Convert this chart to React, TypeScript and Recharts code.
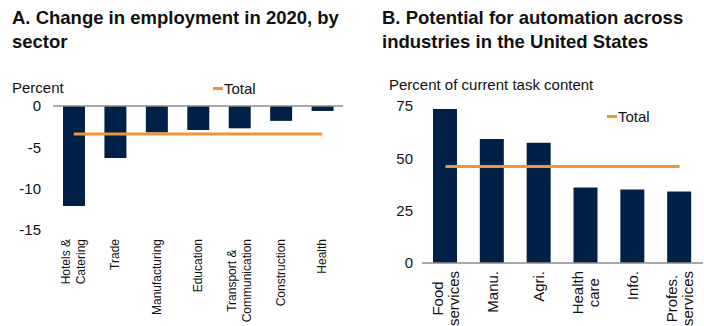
import React from 'react';
import { BarChart, Bar, Line, XAxis, YAxis, ReferenceLine } from 'recharts';

// Panel A: change in employment in 2020, by sector (percent)
const sectorsA = ['Hotels &\nCatering', 'Trade', 'Manufacturing', 'Education', 'Transport &\nCommunication', 'Construction', 'Health'];
const changeA = [-12.1, -6.3, -3.2, -2.9, -2.7, -1.8, -0.6];
const totalA = -3.4;
const ticksA = [0, -5, -10, -15];

// Panel B: potential for automation across US industries (percent of task content)
const industriesB = ['Food\nservices', 'Manu.', 'Agri.', 'Health\ncare', 'Info.', 'Profes.\nservices'];
const automationB = [73.6, 59.2, 57.4, 36.1, 35.1, 34.2];
const totalB = 46.1;
const ticksB = [0, 25, 50, 75];

const NAVY = '#002147';
const ORANGE = '#F39431';
const AXIS = '#8c8c8c';
const FONT = '"Liberation Sans", Arial, sans-serif';

const dataA = sectorsA.map((name, i) => ({ name, value: changeA[i], total: totalA }));
const dataB = industriesB.map((name, i) => ({ name, value: automationB[i], total: totalB }));

let ctx: CanvasRenderingContext2D | null = null;
function measure(text: string, size: number) {
  if (!ctx) ctx = document.createElement('canvas').getContext('2d');
  if (!ctx) return text.length * size * 0.55;
  ctx.font = `${size}px ${FONT}`;
  return ctx.measureText(text).width;
}

// rotated, multi-line category label: block ends at the top, lines centred on each other
function makeTick(fontSize: number, lineHeight: number) {
  return function RotatedTick(props: any) {
    const { x, y, payload } = props;
    const lines = String(payload.value).split('\n');
    const maxW = Math.max(...lines.map((l) => measure(l, fontSize)));
    const n = lines.length;
    return (
      <g transform={`translate(${x},${y}) rotate(-90)`}>
        {lines.map((l, i) => (
          <text
            key={i}
            x={-maxW / 2}
            y={(i - (n - 1) / 2) * lineHeight + fontSize * 0.35}
            textAnchor="middle"
            fontSize={fontSize}
            fontFamily={FONT}
            fill="#111"
          >
            {l}
          </text>
        ))}
      </g>
    );
  };
}

const TickA = makeTick(12, 15);
const TickB = makeTick(15, 16);

function LegendItem({ left, top }: { left: number; top: number }) {
  return (
    <div style={{ position: 'absolute', left, top, display: 'flex', alignItems: 'center', fontSize: 15, fontFamily: FONT, color: '#111' }}>
      <span style={{ display: 'inline-block', width: 10, height: 3, background: ORANGE, marginRight: 1 }} />
      <span>Total</span>
    </div>
  );
}

const titleStyle: React.CSSProperties = {
  position: 'absolute',
  fontFamily: FONT,
  fontWeight: 'bold',
  fontSize: 18.5,
  lineHeight: '24px',
  whiteSpace: 'nowrap',
  color: '#111',
};

export default function App() {
  return (
    <div style={{ position: 'absolute', left: 0, top: 0, width: 704, height: 326, background: '#fff', overflow: 'hidden' }}>
      <div style={{ ...titleStyle, left: 12, top: 6 }}>
        A. Change in employment in 2020, by
        <br />
        sector
      </div>
      <div style={{ ...titleStyle, left: 382, top: 6 }}>
        B. Potential for automation across
        <br />
        industries in the United States
      </div>

      <div style={{ position: 'absolute', left: 12, top: 79, fontFamily: FONT, fontSize: 15, color: '#111' }}>Percent</div>
      <div style={{ position: 'absolute', left: 389, top: 76, fontFamily: FONT, fontSize: 15, color: '#111' }}>
        Percent of current task content
      </div>

      <div style={{ position: 'absolute', left: 0, top: 0 }}>
        <BarChart width={352} height={326} data={dataA} margin={{ top: 106, right: 9, bottom: 0, left: 13 }}>
          <XAxis
            dataKey="name"
            axisLine={false}
            tickLine={false}
            tickSize={0}
            tickMargin={9}
            height={96}
            interval={0}
            tick={<TickA />}
          />
          <YAxis
            domain={[-15, 0]}
            ticks={ticksA}
            width={40}
            axisLine={false}
            tickLine={false}
            tickSize={0}
            tickMargin={12}
            tick={{ fill: '#111', fontSize: 15, fontFamily: FONT }}
          />
          <Bar dataKey="value" fill={NAVY} barSize={22} isAnimationActive={false} />
          <ReferenceLine y={0} stroke={AXIS} strokeWidth={1.5} />
          <Line dataKey="total" stroke={ORANGE} strokeWidth={3} dot={false} type="linear" isAnimationActive={false} />
        </BarChart>
      </div>

      <div style={{ position: 'absolute', left: 380, top: 0 }}>
        <BarChart width={324} height={326} data={dataB} margin={{ top: 106, right: 1, bottom: 0, left: 2 }}>
          <XAxis
            dataKey="name"
            axisLine={{ stroke: AXIS, strokeWidth: 1.5 }}
            tickLine={false}
            tickSize={0}
            tickMargin={8}
            height={63}
            interval={0}
            tick={<TickB />}
          />
          <YAxis
            domain={[0, 75]}
            ticks={ticksB}
            width={40}
            axisLine={false}
            tickLine={false}
            tickSize={0}
            tickMargin={9}
            tick={{ fill: '#111', fontSize: 15, fontFamily: FONT }}
          />
          <Bar dataKey="value" fill={NAVY} barSize={24} isAnimationActive={false} />
          <Line dataKey="total" stroke={ORANGE} strokeWidth={3} dot={false} type="linear" isAnimationActive={false} />
        </BarChart>
      </div>

      <LegendItem left={213} top={80} />
      <LegendItem left={607} top={108} />
    </div>
  );
}
